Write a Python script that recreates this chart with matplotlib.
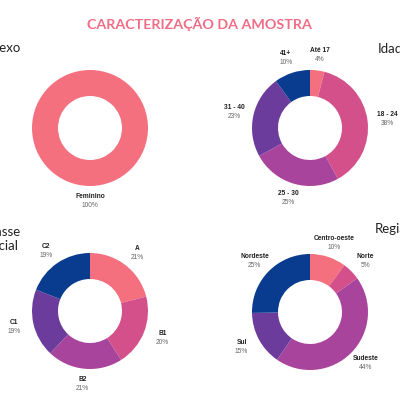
import numpy as np
import matplotlib
matplotlib.use("Agg")
import matplotlib.pyplot as plt

title = "CARACTERIZAÇÃO DA AMOSTRA"

sexo_labels = ["Feminino"]
sexo_values = [100]

idade_labels = ["Até 17", "18 - 24", "25 - 30", "31 - 40", "41+"]
idade_values = [4, 38, 25, 23, 10]

classe_labels = ["A", "B1", "B2", "C1", "C2"]
classe_values = [21, 20, 21, 19, 19]

regiao_labels = ["Centro-oeste", "Norte", "Sudeste", "Sul", "Nordeste"]
regiao_values = [10, 5, 44, 15, 25]

palette = ["#f4707e", "#d4508a", "#a8449c", "#6c3c9c", "#093b8f"]

fig = plt.figure(figsize=(4, 4), dpi=100)
ax = fig.add_axes([0, 0, 1, 1])
ax.set_xlim(0, 400)
ax.set_ylim(0, 400)
ax.set_aspect("equal")
ax.axis("off")

R = 58
W = 26

def donut(labels, values, cx, cy):
    wedges, _ = ax.pie(values, colors=palette[:len(values)], startangle=90,
                       counterclock=False, radius=R, center=(cx, cy),
                       wedgeprops=dict(width=W, linewidth=0), frame=True)
    for w, lab, v in zip(wedges, labels, values):
        ang = np.deg2rad((w.theta1 + w.theta2) / 2)
        lx = cx + 1.34 * R * np.cos(ang)
        ly = cy + 1.26 * R * np.sin(ang)
        ax.text(lx, ly + 4.5, lab, ha="center", va="center", fontsize=4.8,
                fontweight="bold", color="#222222", family="Liberation Sans")
        ax.text(lx, ly - 4.5, f"{v}%", ha="center", va="center", fontsize=4.8,
                color="#666666", family="Liberation Sans")

donut(sexo_labels, sexo_values, 90, 272)
donut(idade_labels, idade_values, 310, 272)
donut(classe_labels, classe_values, 90, 89)
donut(regiao_labels, regiao_values, 310, 88)

ax.set_xlim(0, 400)
ax.set_ylim(0, 400)
ax.axis("off")

ax.text(199, 376, title, ha="center", va="center", fontsize=10.3,
        fontweight="bold", color="#f06d86", family="Lato")

hs = dict(fontsize=9.5, color="#222222", family="Lato", va="baseline")
ax.text(-7, 348, "Sexo", ha="left", **hs)
ax.text(378, 347, "Idade", ha="left", **hs)
ax.text(2, 150, "Classe\nSocial", ha="center", multialignment="center",
        linespacing=1.2, **hs)
ax.text(375, 167, "Região", ha="left", **hs)

fig.savefig("out.png", dpi=100, facecolor="white")
